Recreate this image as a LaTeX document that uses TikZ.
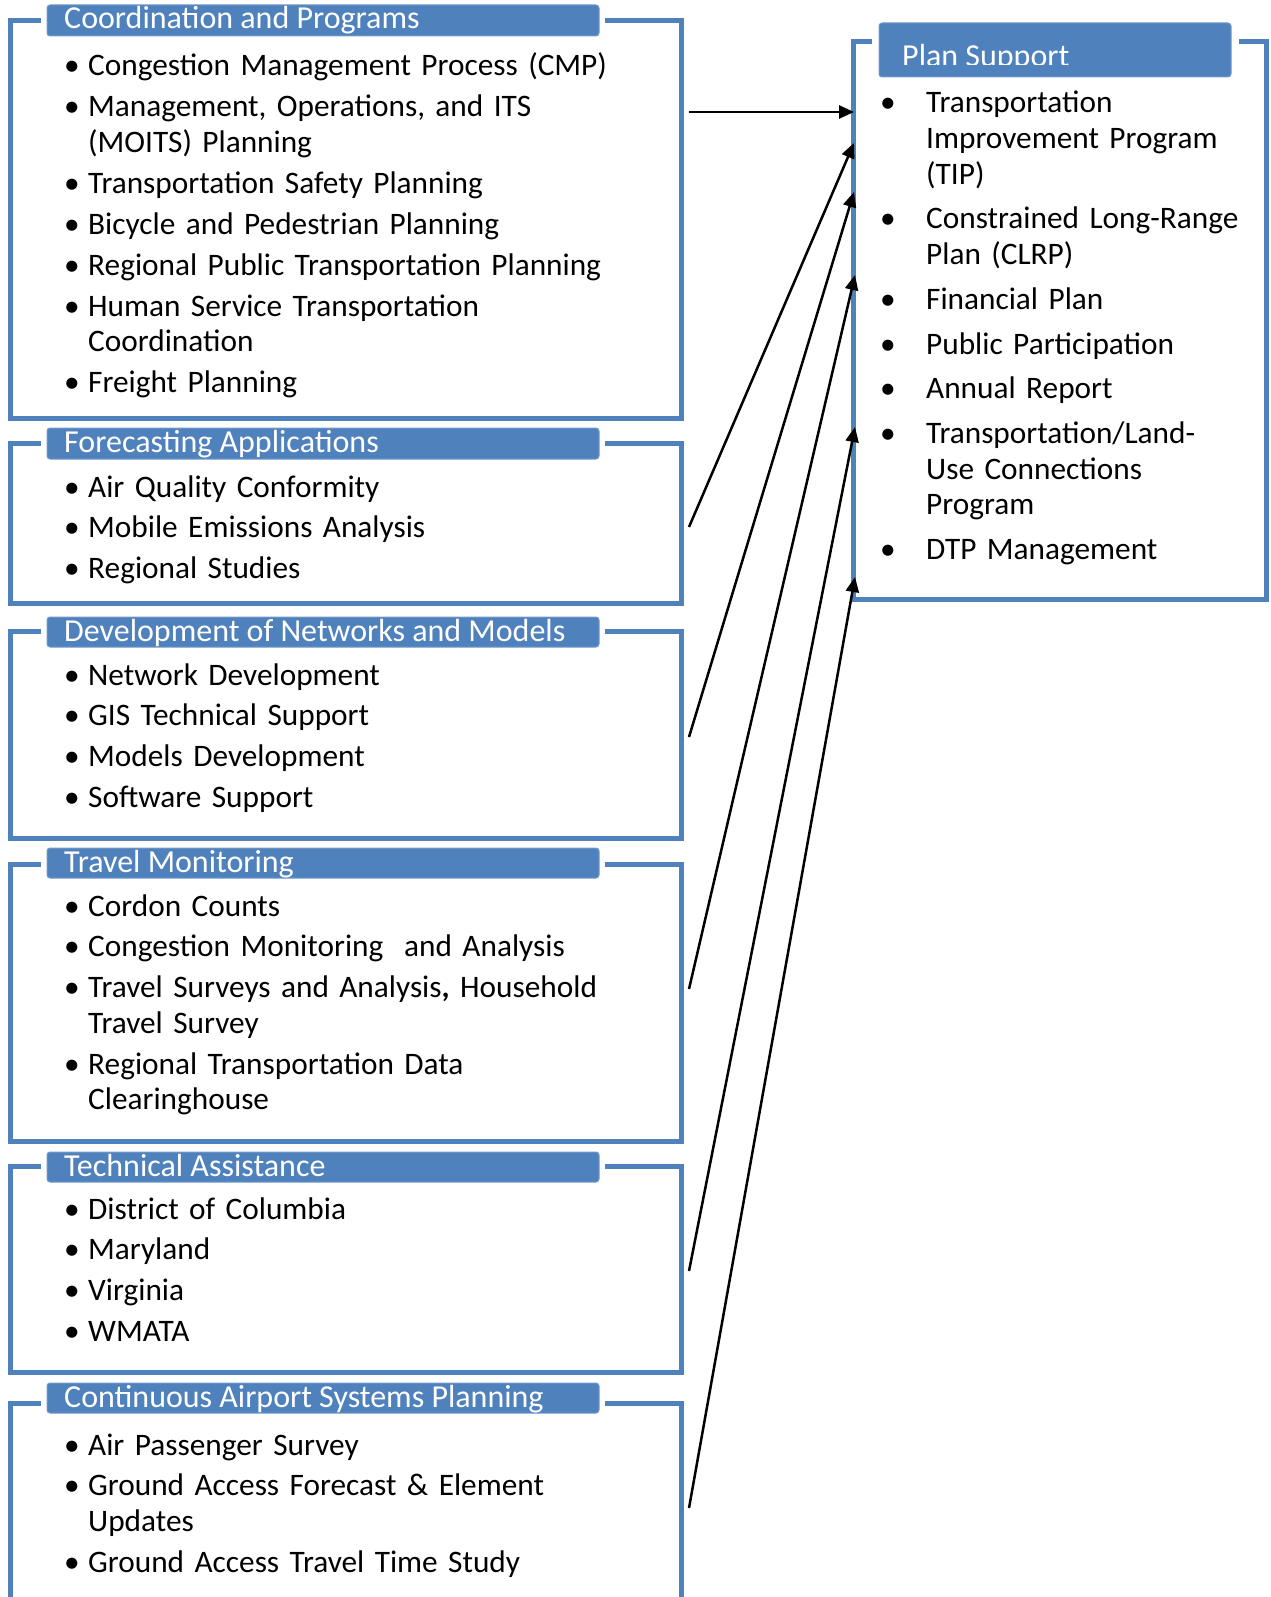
\documentclass[tikz,border=0pt]{standalone}
\usepackage{fontspec}
\setmainfont{Carlito}
\usetikzlibrary{arrows.meta}

\definecolor{accblue}{HTML}{4F81BD}
\newlength{\bltw}
\setlength{\bltw}{24pt}
\newcommand{\firstitm}{\noindent\makebox[\bltw][l]{\textbullet}}
\newcommand{\itm}{\par\firstitm}
\newcommand{\nl}{\\\hspace*{\bltw}}

\tikzset{
  frame/.style={draw=accblue, line width=5pt},
  headbar/.style={fill=accblue, draw=accblue!80!white, line width=1pt, rounded corners=3pt},
  headtext/.style={anchor=base west, inner sep=0pt, text=white, font=\fontsize{32}{38}\selectfont},
  itemlist/.style={anchor=base west, inner sep=0pt, text width=600pt,
    font=\fontsize{31.3}{35.6}\selectfont, execute at begin node={\setlength{\parskip}{5.3pt}}},
  link/.style={-{Triangle[length=15pt,width=13pt]}, line width=2.5pt},
}

\begin{document}
\begin{tikzpicture}[x=1pt,y=-1pt]
  \useasboundingbox (0,0) rectangle (1270,1597);

  \draw[frame] (41,21) -- (10,21) -- (10,418) -- (681,418) -- (681,21) -- (605,21);
  \draw[headbar] (47,5) rectangle (599,36);
  \node[headtext] (h1) at (64,29) {Coordination and Programs};
  \node[itemlist] (l1) at (64,76) {\firstitm Congestion Management Process (CMP)
    \itm Management, Operations, and ITS\nl(MOITS) Planning
    \itm Transportation Safety Planning
    \itm Bicycle and Pedestrian Planning
    \itm Regional Public Transportation Planning
    \itm Human Service Transportation\nl Coordination
    \itm Freight Planning};

  \draw[frame] (41,443) -- (10,443) -- (10,603) -- (681,603) -- (681,443) -- (605,443);
  \draw[headbar] (47,428) rectangle (599,459);
  \node[headtext] (h2) at (64,452) {Forecasting Applications};
  \node[itemlist] (l2) at (64,497) {\firstitm Air Quality Conformity
    \itm Mobile Emissions Analysis
    \itm Regional Studies};

  \draw[frame] (41,631) -- (10,631) -- (10,838) -- (681,838) -- (681,631) -- (605,631);
  \draw[headbar] (47,617) rectangle (599,647);
  \node[headtext] (h3) at (64,641) {Development of Networks and Models};
  \node[itemlist] (l3) at (64,685) {\firstitm Network Development
    \itm GIS Technical Support
    \itm Models Development
    \itm Software Support};

  \draw[frame] (41,864) -- (10,864) -- (10,1141) -- (681,1141) -- (681,864) -- (605,864);
  \draw[headbar] (47,848) rectangle (599,878);
  \node[headtext] (h4) at (64,872) {Travel Monitoring};
  \node[itemlist] (l4) at (64,916) {\firstitm Cordon Counts
    \itm Congestion Monitoring\ \ and Analysis
    \itm Travel Surveys and Analysis\textbf{,} Household\nl Travel Survey
    \itm Regional Transportation Data\nl Clearinghouse};

  \draw[frame] (41,1166) -- (10,1166) -- (10,1372) -- (681,1372) -- (681,1166) -- (605,1166);
  \draw[headbar] (47,1152) rectangle (599,1182);
  \node[headtext] (h5) at (64,1176) {Technical Assistance};
  \node[itemlist] (l5) at (64,1219) {\firstitm District of Columbia
    \itm Maryland
    \itm Virginia
    \itm WMATA};

  \draw[frame] (41,1403) -- (10,1403) -- (10,1600);
  \draw[frame] (605,1403) -- (681,1403) -- (681,1600);
  \draw[headbar] (47,1383) rectangle (599,1413);
  \node[headtext] (h6) at (64,1407) {Continuous Airport Systems Planning};
  \node[itemlist] (l6) at (64,1455) {\firstitm Air Passenger Survey
    \itm Ground Access Forecast \& Element\nl Updates
    \itm Ground Access Travel Time Study};

  \draw[frame] (872,42) -- (853,42) -- (853,599) -- (1266,599) -- (1266,42) -- (1239,42);
  \draw[headbar] (879,23) rectangle (1231,77);
  \begin{scope}
    \clip (879,23) rectangle (1231,65);
    \node[headtext] (hp) at (902,67) {Plan Support};
  \end{scope}
  \node[itemlist, execute at begin node={\setlength{\parskip}{9.2pt}\setlength{\bltw}{46pt}}]
    (lp) at (880,113) {\firstitm Transportation\nl Improvement Program\nl(TIP)
    \itm Constrained Long-Range\nl Plan (CLRP)
    \itm Financial Plan
    \itm Public Participation
    \itm Annual Report
    \itm Transportation/Land-\nl Use Connections\nl Program
    \itm DTP Management};

  \coordinate (o1) at (689,112);
  \coordinate (o2) at (689,527);
  \coordinate (o3) at (689,737);
  \coordinate (o4) at (689,989);
  \coordinate (o5) at (689,1271);
  \coordinate (o6) at (689,1508);
  \coordinate (i1) at (854,112);
  \coordinate (i2) at (854,143);
  \coordinate (i3) at (854,192);
  \coordinate (i4) at (855,275);
  \coordinate (i5) at (855,427);
  \coordinate (i6) at (855,577);
  \draw[link] (o1) -- (i1);
  \draw[link] (o2) -- (i2);
  \draw[link] (o3) -- (i3);
  \draw[link] (o4) -- (i4);
  \draw[link] (o5) -- (i5);
  \draw[link] (o6) -- (i6);
\end{tikzpicture}
\end{document}
